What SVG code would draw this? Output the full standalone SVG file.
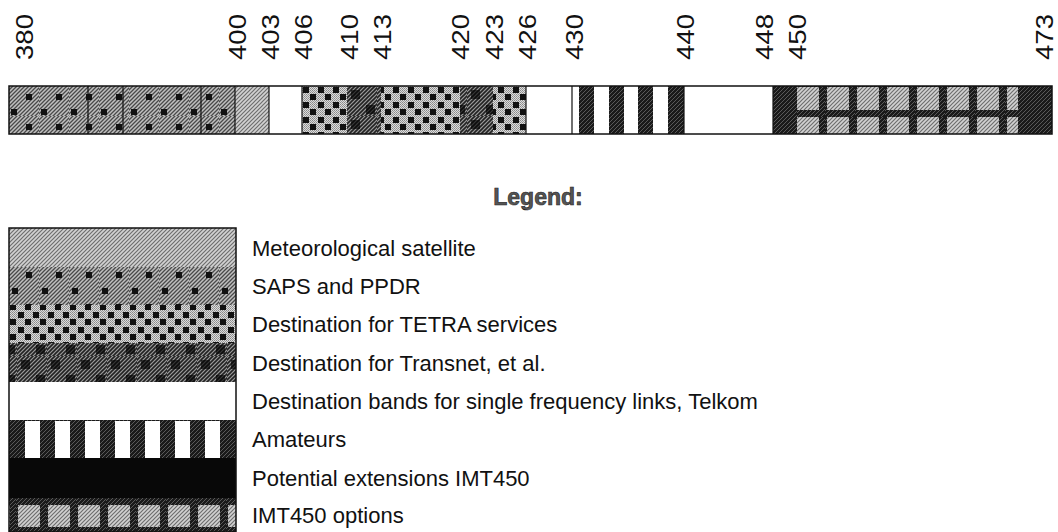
<svg xmlns="http://www.w3.org/2000/svg" width="1058" height="532" viewBox="0 0 1058 532">
<style>
.lbl{font-family:"Liberation Sans",Arial,sans-serif;font-size:23px;fill:#111}
.lt{font-family:"Liberation Sans",Arial,sans-serif;font-size:22px;fill:#111}
.title{font-family:"Liberation Sans",Arial,sans-serif;font-size:23px;font-weight:bold;fill:#555;stroke:#222;stroke-width:0.6}
.div{stroke:#111;stroke-width:1.2;fill:none}
.edge{stroke:#111;stroke-width:1.5;fill:none}
</style>
<defs>
<pattern id="hatchL" width="4" height="4" patternUnits="userSpaceOnUse">
<rect width="4" height="4" fill="#d2d2d2"/>
<path d="M-1,1 l2,-2 M0,4 l4,-4 M3,5 l2,-2" stroke="#6e6e6e" stroke-width="1.2"/>
</pattern>
<pattern id="hatchM" width="4" height="4" patternUnits="userSpaceOnUse">
<rect width="4" height="4" fill="#c0c0c0"/>
<path d="M-1,1 l2,-2 M0,4 l4,-4 M3,5 l2,-2" stroke="#4a4a4a" stroke-width="1.3"/>
</pattern>
<pattern id="hatchD" width="4" height="4" patternUnits="userSpaceOnUse">
<rect width="4" height="4" fill="#9a9a9a"/>
<path d="M-1,1 l2,-2 M0,4 l4,-4 M3,5 l2,-2" stroke="#222" stroke-width="1.6"/>
</pattern>
<pattern id="hatchK" width="4" height="4" patternUnits="userSpaceOnUse">
<rect width="4" height="4" fill="#1a1a1a"/>
<path d="M-1,1 l2,-2 M0,4 l4,-4 M3,5 l2,-2" stroke="#6a6a6a" stroke-width="0.8"/>
</pattern>
<pattern id="dotL" width="2" height="2" patternUnits="userSpaceOnUse">
<rect width="2" height="2" fill="#dcdcdc"/>
<rect width="1" height="1" fill="#8a8a8a"/>
<rect x="1" y="1" width="1" height="1" fill="#9a9a9a"/>
</pattern>
<pattern id="sapsB" width="30" height="30" patternUnits="userSpaceOnUse" x="9" y="86">
<rect width="30" height="30" fill="url(#hatchM)"/>
<rect x="17" y="8" width="6" height="6" fill="#111"/>
<rect x="2" y="23" width="6" height="6" fill="#111"/>
</pattern>
<pattern id="sapsL" width="30" height="32" patternUnits="userSpaceOnUse" x="9" y="264">
<rect width="30" height="32" fill="url(#hatchM)"/>
<rect x="17" y="8" width="6" height="6" fill="#111"/>
<rect x="3" y="24" width="6" height="6" fill="#111"/>
</pattern>
<pattern id="tetra" width="30" height="30" patternUnits="userSpaceOnUse" x="302" y="86">
<rect width="30" height="30" fill="url(#dotL)"/>
<g fill="#111">
<rect x="1" y="1" width="6" height="6"/><rect x="16" y="1" width="6" height="6"/>
<rect x="8" y="8" width="6" height="6"/><rect x="23" y="8" width="6" height="6"/>
<rect x="1" y="16" width="6" height="6"/><rect x="16" y="16" width="6" height="6"/>
<rect x="8" y="23" width="6" height="6"/><rect x="23" y="23" width="6" height="6"/>
</g>
</pattern>
<pattern id="transnet" width="30" height="30" patternUnits="userSpaceOnUse" x="347" y="86">
<rect width="30" height="30" fill="url(#hatchD)"/>
<rect x="4" y="4" width="9" height="9" fill="#000" opacity="0.65"/>
<rect x="19" y="19" width="9" height="9" fill="#000" opacity="0.65"/>
</pattern>
<pattern id="imtB" width="30" height="30" patternUnits="userSpaceOnUse" x="795" y="87">
<rect width="30" height="30" fill="url(#hatchK)"/>
<rect x="2" y="0" width="22" height="23" fill="url(#hatchL)"/>
</pattern>
<pattern id="imtL" width="30" height="40" patternUnits="userSpaceOnUse" x="16" y="505">
<rect width="30" height="40" fill="url(#hatchK)"/>
<rect x="2" y="0" width="22" height="22" fill="url(#hatchL)"/>
</pattern>
</defs>

<g id="axis-labels">
<text class="lbl" transform="translate(33,60) rotate(-90)" textLength="46" lengthAdjust="spacingAndGlyphs">380</text>
<text class="lbl" transform="translate(246,60) rotate(-90)" textLength="46" lengthAdjust="spacingAndGlyphs">400</text>
<text class="lbl" transform="translate(279,60) rotate(-90)" textLength="46" lengthAdjust="spacingAndGlyphs">403</text>
<text class="lbl" transform="translate(312,60) rotate(-90)" textLength="46" lengthAdjust="spacingAndGlyphs">406</text>
<text class="lbl" transform="translate(358,60) rotate(-90)" textLength="46" lengthAdjust="spacingAndGlyphs">410</text>
<text class="lbl" transform="translate(391,60) rotate(-90)" textLength="46" lengthAdjust="spacingAndGlyphs">413</text>
<text class="lbl" transform="translate(469,60) rotate(-90)" textLength="46" lengthAdjust="spacingAndGlyphs">420</text>
<text class="lbl" transform="translate(503,60) rotate(-90)" textLength="46" lengthAdjust="spacingAndGlyphs">423</text>
<text class="lbl" transform="translate(536,60) rotate(-90)" textLength="46" lengthAdjust="spacingAndGlyphs">426</text>
<text class="lbl" transform="translate(583,60) rotate(-90)" textLength="46" lengthAdjust="spacingAndGlyphs">430</text>
<text class="lbl" transform="translate(694,60) rotate(-90)" textLength="46" lengthAdjust="spacingAndGlyphs">440</text>
<text class="lbl" transform="translate(773,60) rotate(-90)" textLength="46" lengthAdjust="spacingAndGlyphs">448</text>
<text class="lbl" transform="translate(806,60) rotate(-90)" textLength="46" lengthAdjust="spacingAndGlyphs">450</text>
<text class="lbl" transform="translate(1053,60) rotate(-90)" textLength="46" lengthAdjust="spacingAndGlyphs">473</text>
</g>

<g id="band-bar">
<rect x="9" y="86" width="226" height="48" fill="url(#sapsB)"/>
<rect x="235" y="86" width="34" height="48" fill="url(#hatchL)"/>
<rect x="269" y="86" width="33" height="48" fill="#fff"/>
<rect x="302" y="86" width="45" height="48" fill="url(#tetra)"/>
<rect x="347" y="86" width="34" height="48" fill="url(#transnet)"/>
<rect x="381" y="86" width="79" height="48" fill="url(#tetra)"/>
<rect x="460" y="86" width="33" height="48" fill="url(#transnet)"/>
<rect x="493" y="86" width="33" height="48" fill="url(#tetra)"/>
<rect x="526" y="86" width="46" height="48" fill="#fff"/>
<rect x="572" y="86" width="112" height="48" fill="#fff"/>
<rect x="579" y="86" width="15" height="48" fill="url(#hatchK)"/>
<rect x="609" y="86" width="15" height="48" fill="url(#hatchK)"/>
<rect x="638" y="86" width="15" height="48" fill="url(#hatchK)"/>
<rect x="668" y="86" width="16" height="48" fill="url(#hatchK)"/>
<rect x="684" y="86" width="89" height="48" fill="#fff"/>
<rect x="773" y="86" width="24" height="48" fill="url(#hatchK)"/>
<rect x="797" y="86" width="221" height="48" fill="url(#imtB)"/>
<rect x="1018" y="86" width="34" height="48" fill="url(#hatchK)"/>
<path class="div" d="M88,86V134 M123,86V134 M201,86V134 M235,86V134 M269,86V134 M302,86V134 M526,86V134 M572,86V134 M684,86V134 M773,86V134"/>
<rect class="edge" x="9" y="86" width="1043" height="48"/>
</g>

<text class="title" x="538" y="205" text-anchor="middle">Legend:</text>

<g id="legend-met">
<rect x="9" y="228" width="227" height="39" fill="url(#hatchL)"/>
<text class="lt" x="252" y="256">Meteorological satellite</text>
</g>
<g id="legend-saps">
<rect x="9" y="267" width="227" height="38" fill="url(#sapsL)"/>
<text class="lt" x="252" y="294">SAPS and PPDR</text>
</g>
<g id="legend-tetra">
<rect x="9" y="305" width="227" height="38" fill="url(#tetra)"/>
<text class="lt" x="252" y="332">Destination for TETRA services</text>
</g>
<g id="legend-transnet">
<rect x="9" y="343" width="227" height="39" fill="url(#transnet)"/>
<text class="lt" x="252" y="371">Destination for Transnet, et al.</text>
</g>
<g id="legend-single">
<rect x="9" y="382" width="227" height="38" fill="#fff"/>
<text class="lt" x="252" y="409">Destination bands for single frequency links, Telkom</text>
</g>
<g id="legend-amateurs">
<rect x="9" y="420" width="227" height="38" fill="url(#hatchK)"/>
<g fill="#fff">
<rect x="25" y="421" width="15" height="37"/><rect x="55" y="421" width="15" height="37"/>
<rect x="85" y="421" width="15" height="37"/><rect x="115" y="421" width="15" height="37"/>
<rect x="145" y="421" width="15" height="37"/><rect x="175" y="421" width="15" height="37"/>
<rect x="205" y="421" width="15" height="37"/>
</g>
<text class="lt" x="252" y="447">Amateurs</text>
</g>
<g id="legend-potential">
<rect x="9" y="458" width="227" height="40" fill="#080808"/>
<text class="lt" x="252" y="486">Potential extensions IMT450</text>
</g>
<g id="legend-imt">
<rect x="9" y="498" width="227" height="34" fill="url(#imtL)"/>
<text class="lt" x="252" y="523">IMT450 options</text>
</g>
<rect class="edge" x="9" y="228" width="227" height="304"/>
</svg>
